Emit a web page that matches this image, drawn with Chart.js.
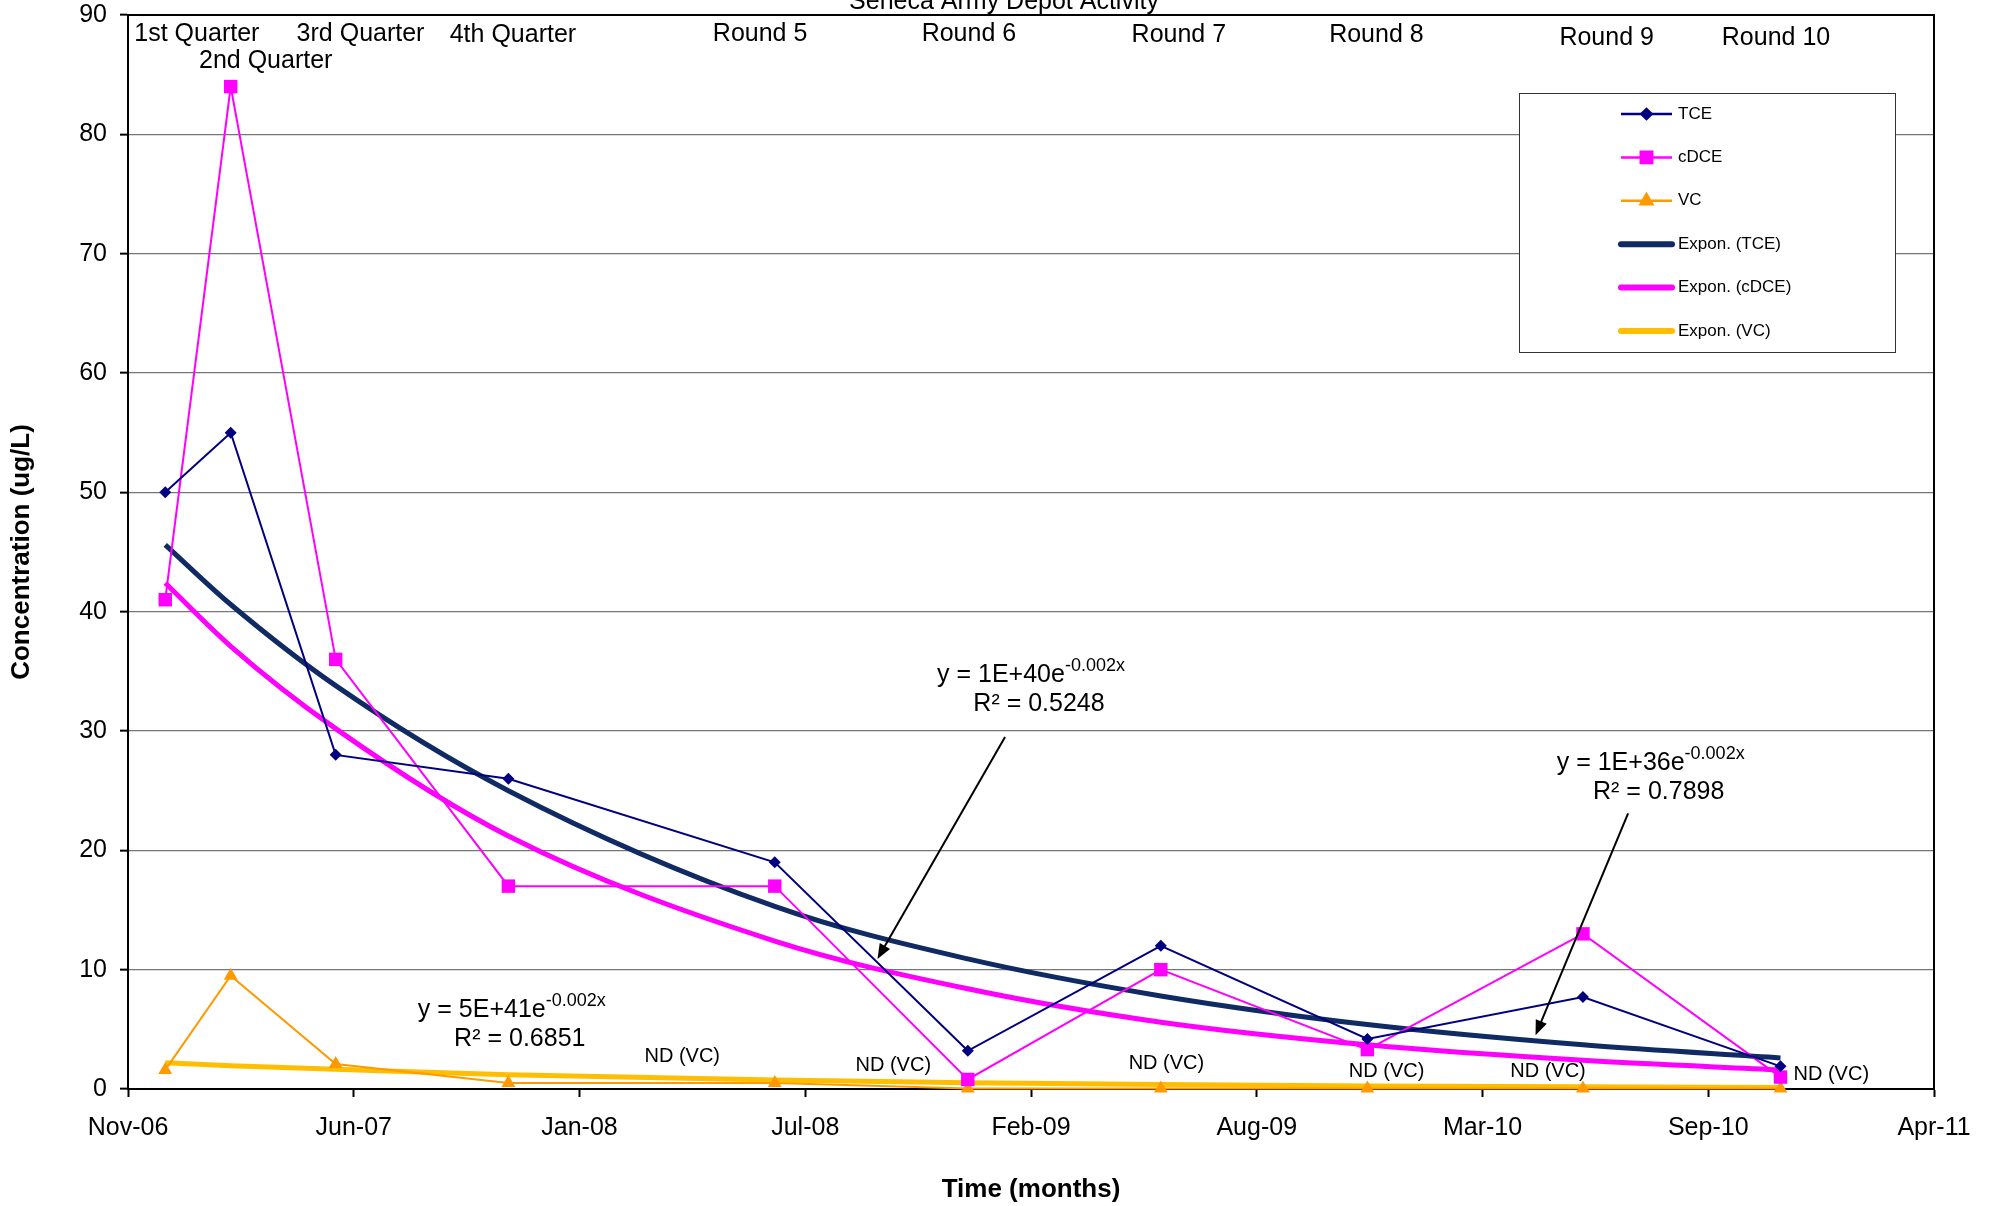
<!DOCTYPE html>
<html>
<head>
<meta charset="utf-8">
<title>Seneca Army Depot Activity</title>
<script src="https://cdn.jsdelivr.net/npm/chart.js@4.4.1/dist/chart.umd.min.js"></script>
<style>
  html, body { margin: 0; padding: 0; background: #fff; }
  #wrap { width: 1992px; height: 1206px; }
</style>
</head>
<body>
<div id="wrap"><canvas id="chart" width="1992" height="1206"></canvas></div>
<script>
// Concentrations over time at the Seneca Army Depot site (ug/L)
// x axis runs in days from axisStart, one tick every 200 days
const axisStart = '2006-11-28';
const xTickLabels = ['Nov-06', 'Jun-07', 'Jan-08', 'Jul-08', 'Feb-09', 'Aug-09', 'Mar-10', 'Sep-10', 'Apr-11'];

const sampleDates = ['2006-12-31', '2007-02-27', '2007-05-31', '2007-10-31', '2008-06-23',
                     '2008-12-11', '2009-05-31', '2009-11-30', '2010-06-09', '2010-12-01'];
const roundNames = ['1st Quarter', '2nd Quarter', '3rd Quarter', '4th Quarter', 'Round 5',
                    'Round 6', 'Round 7', 'Round 8', 'Round 9', 'Round 10'];

const tce  = [50, 55, 28, 26, 19, 3.2, 12, 4.2, 7.7, 1.9];
const cdce = [41, 84, 36, 17, 17, 0.8, 10, 3.3, 13, 1.0];
// VC not detected from round 6 on, plotted just above zero
const vc   = [1.6, 9.5, 2.1, 0.5, 0.5, 0.05, 0.05, 0.05, 0.05, 0.05];

// Exponential trend lines (Excel), read at each sampling date
const tceTrend  = [45.6, 40.6, 33.8, 25.0, 15.3, 10.9, 7.8, 5.4, 3.7, 2.6];
const cdceTrend = [42.4, 37.1, 30.2, 21.2, 12.4, 8.4, 5.6, 3.7, 2.4, 1.6];
const vcTrend   = [2.2, 1.95, 1.65, 1.2, 0.75, 0.53, 0.38, 0.26, 0.18, 0.13];

// Text placed on the plot, in axis units (day, ug/L)
const roundLabelPos = [[61, 88.4], [122, 86.1], [206, 88.4], [341, 88.3], [560, 88.4],
                       [745, 88.4], [931, 88.3], [1106, 88.3], [1310, 88.1], [1460, 88.1]];
const ndLabelPos = [[491, 2.7], [678, 2.0], [920, 2.1], [1115, 1.5], [1258, 1.5], [1509, 1.2]];
const equations = [
  { main: 'y = 1E+40e', sup: '-0.002x', r2: 'R\u00b2 = 0.5248', day: 800, y: 34.7, arrow: [[777, 29.5], [664, 10.9]] },
  { main: 'y = 1E+36e', sup: '-0.002x', r2: 'R\u00b2 = 0.7898', day: 1349, y: 27.3, arrow: [[1329, 23.1], [1247, 4.5]] },
  { main: 'y = 5E+41e', sup: '-0.002x', r2: 'R\u00b2 = 0.6851', day: 340, y: 6.6, arrow: null }
];

function dayOf(dateStr) {
  const [y, m, d] = dateStr.split('-').map(Number);
  const [y0, m0, d0] = axisStart.split('-').map(Number);
  return (Date.UTC(y, m - 1, d) - Date.UTC(y0, m0 - 1, d0)) / 86400000;
}
const days = sampleDates.map(dayOf);
const pts = arr => arr.map((v, i) => ({ x: days[i], y: v }));

const FONT = '"Liberation Sans", Arial, sans-serif';
Chart.defaults.font.family = FONT;
Chart.defaults.color = '#000';

// Top and right edges of the plot area
const frame = {
  id: 'frame',
  afterDraw(chart) {
    const { ctx, chartArea: a } = chart;
    ctx.save();
    ctx.strokeStyle = '#000';
    ctx.lineWidth = 2;
    ctx.beginPath();
    ctx.moveTo(a.left, a.top);
    ctx.lineTo(a.right, a.top);
    ctx.lineTo(a.right, a.bottom);
    ctx.stroke();
    ctx.restore();
  }
};

// Round names, ND notes, trend equations and arrows
const notes = {
  id: 'notes',
  afterDatasetsDraw(chart) {
    const { ctx, scales: { x, y } } = chart;
    const px = d => x.getPixelForValue(d);
    const py = v => y.getPixelForValue(v);
    ctx.save();
    ctx.fillStyle = '#000';
    ctx.textAlign = 'center';
    ctx.textBaseline = 'middle';

    ctx.font = '25px ' + FONT;
    roundNames.forEach((t, i) => ctx.fillText(t, px(roundLabelPos[i][0]), py(roundLabelPos[i][1])));

    ctx.font = '20px ' + FONT;
    ndLabelPos.forEach(p => ctx.fillText('ND (VC)', px(p[0]), py(p[1])));

    equations.forEach(eq => {
      ctx.font = '25px ' + FONT;
      const wMain = ctx.measureText(eq.main).width;
      ctx.font = '18px ' + FONT;
      const wSup = ctx.measureText(eq.sup).width;
      const cx = px(eq.day), cy = py(eq.y);
      const x0 = cx - (wMain + wSup) / 2;
      ctx.textAlign = 'left';
      ctx.font = '25px ' + FONT;
      ctx.fillText(eq.main, x0, cy);
      ctx.font = '18px ' + FONT;
      ctx.fillText(eq.sup, x0 + wMain, cy - 9);
      ctx.textAlign = 'center';
      ctx.font = '25px ' + FONT;
      ctx.fillText(eq.r2, cx + 8, cy + 29);

      if (eq.arrow) {
        const [x1, y1] = [px(eq.arrow[0][0]), py(eq.arrow[0][1])];
        const [x2, y2] = [px(eq.arrow[1][0]), py(eq.arrow[1][1])];
        const ang = Math.atan2(y2 - y1, x2 - x1);
        const len = 16, half = 0.38;
        ctx.strokeStyle = '#000';
        ctx.lineWidth = 2;
        ctx.beginPath();
        ctx.moveTo(x1, y1);
        ctx.lineTo(x2 - Math.cos(ang) * len * 0.8, y2 - Math.sin(ang) * len * 0.8);
        ctx.stroke();
        ctx.beginPath();
        ctx.moveTo(x2, y2);
        ctx.lineTo(x2 - len * Math.cos(ang - half), y2 - len * Math.sin(ang - half));
        ctx.lineTo(x2 - len * Math.cos(ang + half), y2 - len * Math.sin(ang + half));
        ctx.closePath();
        ctx.fill();
      }
    });

    // chart title, mostly cut off by the top edge
    ctx.font = '25px ' + FONT;
    ctx.textAlign = 'center';
    ctx.textBaseline = 'alphabetic';
    ctx.fillText('Seneca Army Depot Activity', 1004, 9);
    ctx.restore();
  }
};

// Boxed legend inside the plot, upper right
const boxLegend = {
  id: 'boxLegend',
  afterDraw(chart) {
    const { ctx } = chart;
    const box = { left: 1519, top: 93, width: 376, height: 259 };
    ctx.save();
    ctx.fillStyle = '#fff';
    ctx.fillRect(box.left, box.top, box.width, box.height);
    ctx.strokeStyle = '#333';
    ctx.lineWidth = 1;
    ctx.strokeRect(box.left + 0.5, box.top + 0.5, box.width, box.height);
    ctx.font = '17px ' + FONT;
    ctx.textBaseline = 'middle';
    ctx.textAlign = 'left';
    chart.data.datasets.forEach((ds, i) => {
      const yy = box.top + 21 + i * 43.4;
      const x1 = 1621, x2 = 1672;
      ctx.strokeStyle = ds.borderColor;
      ctx.lineWidth = ds.pointRadius ? 2.5 : 6;
      ctx.lineCap = ds.pointRadius ? 'butt' : 'round';
      ctx.beginPath();
      ctx.moveTo(x1, yy);
      ctx.lineTo(x2, yy);
      ctx.stroke();
      if (ds.pointRadius) {
        Chart.helpers.drawPoint(ctx, {
          pointStyle: ds.pointStyle,
          radius: ds.pointRadius * 0.85,
          rotation: 0,
          borderWidth: 1
        }, (x1 + x2) / 2, yy);
        ctx.fillStyle = ds.backgroundColor;
        ctx.fill();
      }
      ctx.fillStyle = '#000';
      ctx.fillText(ds.label, 1678, yy);
    });
    ctx.restore();
  }
};

// measured series sit above the trend lines and may overhang the axis
const seriesLine = (label, data, color, style, radius, order) => ({
  label, data: pts(data), borderColor: color, backgroundColor: color,
  borderWidth: 2, pointStyle: style, pointRadius: radius, pointHoverRadius: radius,
  pointBorderWidth: 0, tension: 0, order, clip: false
});
const trendLine = (label, data, color) => ({
  label, data: pts(data), borderColor: color, backgroundColor: color,
  borderWidth: 5, pointRadius: 0, cubicInterpolationMode: 'monotone', order: 5
});

new Chart(document.getElementById('chart'), {
  type: 'line',
  data: {
    datasets: [
      seriesLine('TCE', tce, '#000080', 'rectRot', 6, 1),
      seriesLine('cDCE', cdce, '#ff00ff', 'rect', 9.5, 2),
      seriesLine('VC', vc, '#ff9900', 'triangle', 8, 3),
      trendLine('Expon. (TCE)', tceTrend, '#102a63'),
      trendLine('Expon. (cDCE)', cdceTrend, '#ff00ff'),
      trendLine('Expon. (VC)', vcTrend, '#ffbf00')
    ]
  },
  options: {
    responsive: false,
    devicePixelRatio: 1,
    animation: false,
    layout: { padding: { top: 15, right: 58, left: 0, bottom: 0 } },
    plugins: { legend: { display: false }, tooltip: { enabled: false } },
    scales: {
      x: {
        type: 'linear', min: 0, max: 1600,
        afterFit: s => { s.height = 117; s.paddingLeft = 0; s.paddingRight = 0; },
        ticks: {
          stepSize: 200, autoSkip: false, maxRotation: 0, padding: 16,
          font: { size: 25 },
          callback: (v, i) => xTickLabels[i]
        },
        grid: { drawOnChartArea: false, tickLength: 8, tickColor: '#000', tickWidth: 2 },
        border: { color: '#000', width: 2 },
        title: { display: true, text: 'Time (months)', font: { size: 26, weight: 'bold' }, padding: { top: 0, bottom: 1 } }
      },
      y: {
        min: 0, max: 90,
        afterFit: s => { s.width = 128; s.paddingTop = 0; s.paddingBottom = 0; },
        ticks: { stepSize: 10, padding: 13, font: { size: 25 } },
        grid: { color: '#767676', lineWidth: 1.3, tickLength: 8, tickColor: '#000', tickWidth: 2 },
        border: { color: '#000', width: 2 },
        title: { display: true, text: 'Concentration (ug/L)', font: { size: 26, weight: 'bold' }, padding: { top: 6, bottom: 0 } }
      }
    }
  },
  plugins: [frame, notes, boxLegend]
});
</script>
</body>
</html>
